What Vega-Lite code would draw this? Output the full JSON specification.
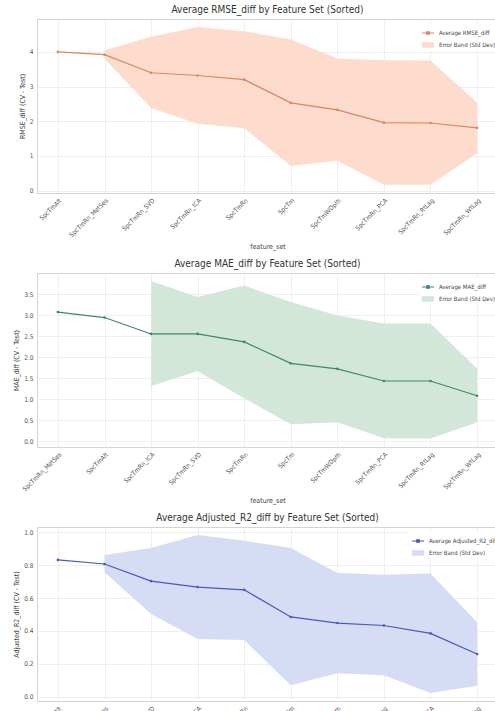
{
  "$schema": "https://vega.github.io/schema/vega-lite/v6.json",
  "padding": {"left": 12, "top": 4, "right": 0, "bottom": 0},
  "spacing": 8,
  "datasets": {
    "rmse": [
      {"feature_set": "SpcTmAlt", "mean": 4.00, "lower": null, "upper": null},
      {"feature_set": "SpcTmRn_MetSes", "mean": 3.92, "lower": 3.80, "upper": 4.05},
      {"feature_set": "SpcTmRn_SVD", "mean": 3.40, "lower": 2.38, "upper": 4.44},
      {"feature_set": "SpcTmRn_ICA", "mean": 3.32, "lower": 1.93, "upper": 4.72},
      {"feature_set": "SpcTmRn", "mean": 3.20, "lower": 1.80, "upper": 4.60},
      {"feature_set": "SpcTm", "mean": 2.53, "lower": 0.71, "upper": 4.36},
      {"feature_set": "SpcTmWDpth", "mean": 2.33, "lower": 0.86, "upper": 3.81},
      {"feature_set": "SpcTmRn_PCA", "mean": 1.96, "lower": 0.17, "upper": 3.76},
      {"feature_set": "SpcTmRn_RtLag", "mean": 1.95, "lower": 0.17, "upper": 3.75},
      {"feature_set": "SpcTmRn_WtLag", "mean": 1.81, "lower": 1.08, "upper": 2.54}
    ],
    "mae": [
      {"feature_set": "SpcTmRn_MetSes", "mean": 3.07, "lower": null, "upper": null},
      {"feature_set": "SpcTmAlt", "mean": 2.94, "lower": null, "upper": null},
      {"feature_set": "SpcTmRn_ICA", "mean": 2.55, "lower": 1.31, "upper": 3.81},
      {"feature_set": "SpcTmRn_SVD", "mean": 2.55, "lower": 1.66, "upper": 3.43},
      {"feature_set": "SpcTmRn", "mean": 2.36, "lower": 1.02, "upper": 3.70},
      {"feature_set": "SpcTm", "mean": 1.85, "lower": 0.40, "upper": 3.31},
      {"feature_set": "SpcTmWDpth", "mean": 1.72, "lower": 0.45, "upper": 2.99},
      {"feature_set": "SpcTmRn_PCA", "mean": 1.43, "lower": 0.07, "upper": 2.80},
      {"feature_set": "SpcTmRn_RtLag", "mean": 1.43, "lower": 0.06, "upper": 2.80},
      {"feature_set": "SpcTmRn_WtLag", "mean": 1.08, "lower": 0.44, "upper": 1.73}
    ],
    "r2": [
      {"feature_set": "SpcTmAlt", "mean": 0.832, "lower": null, "upper": null},
      {"feature_set": "SpcTmRn_MetSes", "mean": 0.807, "lower": 0.757, "upper": 0.862},
      {"feature_set": "SpcTmRn_SVD", "mean": 0.703, "lower": 0.503, "upper": 0.905},
      {"feature_set": "SpcTmRn_ICA", "mean": 0.667, "lower": 0.351, "upper": 0.984},
      {"feature_set": "SpcTmRn", "mean": 0.650, "lower": 0.345, "upper": 0.949},
      {"feature_set": "SpcTm", "mean": 0.485, "lower": 0.070, "upper": 0.905},
      {"feature_set": "SpcTmWDpth", "mean": 0.448, "lower": 0.142, "upper": 0.752},
      {"feature_set": "SpcTmRn_RtLag", "mean": 0.433, "lower": 0.130, "upper": 0.742},
      {"feature_set": "SpcTmRn_PCA", "mean": 0.385, "lower": 0.022, "upper": 0.750},
      {"feature_set": "SpcTmRn_WtLag", "mean": 0.260, "lower": 0.067, "upper": 0.453}
    ]
  },
  "vconcat": [
    {
      "title": "Average RMSE_diff by Feature Set (Sorted)",
      "width": 461,
      "height": 174,
      "data": {"name": "rmse"},
      "encoding": {
        "x": {"field": "feature_set", "type": "nominal",
          "scale": {"domain": ["SpcTmAlt", "SpcTmRn_MetSes", "SpcTmRn_SVD", "SpcTmRn_ICA", "SpcTmRn", "SpcTm", "SpcTmWDpth", "SpcTmRn_PCA", "SpcTmRn_RtLag", "SpcTmRn_WtLag"], "padding": 0.45},
          "axis": {"title": "feature_set", "labelAngle": -45, "grid": true}}
      },
      "layer": [
        {
          "mark": {"type": "area", "opacity": 1},
          "transform": [{"filter": "isValid(datum.upper)"}],
          "encoding": {
            "y": {"field": "lower", "type": "quantitative", "scale": {"domain": [-0.07, 4.95], "nice": false, "zero": false},
              "axis": {"title": "RMSE_diff (CV - Test)", "values": [0, 1, 2, 3, 4], "labelOverlap": false}},
            "y2": {"field": "upper"},
            "fill": {"datum": "Error Band (Std Dev)",
              "scale": {"domain": ["Error Band (Std Dev)"], "range": ["#fddccd"]},
              "legend": {"title": null, "orient": "none", "legendX": 382, "legendY": 17, "symbolType": "M-1,-0.45H1V0.45H-1Z"}}
          }
        },
        {
          "mark": {"type": "line", "strokeWidth": 1.2, "point": {"size": 7, "filled": true, "color": "#da8563", "strokeWidth": 0}},
          "encoding": {
            "y": {"field": "mean", "type": "quantitative",
              "axis": {"title": "RMSE_diff (CV - Test)", "values": [0, 1, 2, 3, 4], "labelOverlap": false}},
            "stroke": {"datum": "Average RMSE_diff",
              "scale": {"domain": ["Average RMSE_diff"], "range": ["#da8563"]},
              "legend": {"title": null, "orient": "none", "legendX": 382, "legendY": 5, "symbolType": "M-1,0H1M-0.2,-0.2H0.2V0.2H-0.2Z", "symbolStrokeWidth": 1.2}}
          }
        }
      ]
    },
    {
      "title": "Average MAE_diff by Feature Set (Sorted)",
      "width": 461,
      "height": 174,
      "data": {"name": "mae"},
      "encoding": {
        "x": {"field": "feature_set", "type": "nominal",
          "scale": {"domain": ["SpcTmRn_MetSes", "SpcTmAlt", "SpcTmRn_ICA", "SpcTmRn_SVD", "SpcTmRn", "SpcTm", "SpcTmWDpth", "SpcTmRn_PCA", "SpcTmRn_RtLag", "SpcTmRn_WtLag"], "padding": 0.45},
          "axis": {"title": "feature_set", "labelAngle": -45, "grid": true}}
      },
      "layer": [
        {
          "mark": {"type": "area", "opacity": 1},
          "transform": [{"filter": "isValid(datum.upper)"}],
          "encoding": {
            "y": {"field": "lower", "type": "quantitative", "scale": {"domain": [-0.14, 4.0], "nice": false, "zero": false},
              "axis": {"title": "MAE_diff (CV - Test)", "values": [0, 0.5, 1, 1.5, 2, 2.5, 3, 3.5], "format": ".1f", "labelOverlap": false}},
            "y2": {"field": "upper"},
            "fill": {"datum": "Error Band (Std Dev)",
              "scale": {"domain": ["Error Band (Std Dev)"], "range": ["#d2e7da"]},
              "legend": {"title": null, "orient": "none", "legendX": 382, "legendY": 17, "symbolType": "M-1,-0.45H1V0.45H-1Z"}}
          }
        },
        {
          "mark": {"type": "line", "strokeWidth": 1.2, "point": {"size": 7, "filled": true, "color": "#3e8a62", "strokeWidth": 0}},
          "encoding": {
            "y": {"field": "mean", "type": "quantitative",
              "axis": {"title": "MAE_diff (CV - Test)", "values": [0, 0.5, 1, 1.5, 2, 2.5, 3, 3.5], "format": ".1f", "labelOverlap": false}},
            "stroke": {"datum": "Average MAE_diff",
              "scale": {"domain": ["Average MAE_diff"], "range": ["#3e8a62"]},
              "legend": {"title": null, "orient": "none", "legendX": 382, "legendY": 5, "symbolType": "M-1,0H1M-0.2,-0.2H0.2V0.2H-0.2Z", "symbolStrokeWidth": 1.2}}
          }
        }
      ]
    },
    {
      "title": "Average Adjusted_R2_diff by Feature Set (Sorted)",
      "width": 461,
      "height": 174,
      "data": {"name": "r2"},
      "encoding": {
        "x": {"field": "feature_set", "type": "nominal",
          "scale": {"domain": ["SpcTmAlt", "SpcTmRn_MetSes", "SpcTmRn_SVD", "SpcTmRn_ICA", "SpcTmRn", "SpcTm", "SpcTmWDpth", "SpcTmRn_RtLag", "SpcTmRn_PCA", "SpcTmRn_WtLag"], "padding": 0.45},
          "axis": {"title": "feature_set", "labelAngle": -45, "grid": true}}
      },
      "layer": [
        {
          "mark": {"type": "area", "opacity": 1},
          "transform": [{"filter": "isValid(datum.upper)"}],
          "encoding": {
            "y": {"field": "lower", "type": "quantitative", "scale": {"domain": [-0.026, 1.032], "nice": false, "zero": false},
              "axis": {"title": "Adjusted_R2_diff (CV - Test)", "values": [0, 0.2, 0.4, 0.6, 0.8, 1.0], "format": ".1f", "labelOverlap": false}},
            "y2": {"field": "upper"},
            "fill": {"datum": "Error Band (Std Dev)",
              "scale": {"domain": ["Error Band (Std Dev)"], "range": ["#d5dcf4"]},
              "legend": {"title": null, "orient": "none", "legendX": 372, "legendY": 17, "symbolType": "M-1,-0.45H1V0.45H-1Z"}}
          }
        },
        {
          "mark": {"type": "line", "strokeWidth": 1.2, "point": {"size": 7, "filled": true, "color": "#4a58b8", "strokeWidth": 0}},
          "encoding": {
            "y": {"field": "mean", "type": "quantitative",
              "axis": {"title": "Adjusted_R2_diff (CV - Test)", "values": [0, 0.2, 0.4, 0.6, 0.8, 1.0], "format": ".1f", "labelOverlap": false}},
            "stroke": {"datum": "Average Adjusted_R2_diff",
              "scale": {"domain": ["Average Adjusted_R2_diff"], "range": ["#4a58b8"]},
              "legend": {"title": null, "orient": "none", "legendX": 372, "legendY": 5, "symbolType": "M-1,0H1M-0.2,-0.2H0.2V0.2H-0.2Z", "symbolStrokeWidth": 1.2}}
          }
        }
      ]
    }
  ],
  "resolve": {"scale": {"fill": "independent", "stroke": "independent"}, "legend": {"fill": "independent", "stroke": "independent"}},
  "config": {
    "font": "Liberation Sans Narrow, DejaVu Sans Condensed, DejaVu Sans",
    "view": {"stroke": "#d4d4d4", "strokeWidth": 1},
    "title": {"fontSize": 10, "fontWeight": "normal", "color": "#333333", "offset": 4},
    "axis": {"labelFontSize": 6.5, "titleFontSize": 7, "labelColor": "#555555", "titleColor": "#444444",
      "titleFontWeight": "normal", "gridColor": "#ebebeb", "gridWidth": 0.8, "domain": false, "ticks": false,
      "labelPadding": 4, "titlePadding": 4, "labelOverlap": false},
    "axisY": {"labelOverlap": false},
    "legend": {"labelFontSize": 6, "labelColor": "#444444", "symbolSize": 150, "fillColor": "white",
      "padding": 2, "rowPadding": 3, "labelOffset": 4, "symbolOpacity": 1}
  }
}
